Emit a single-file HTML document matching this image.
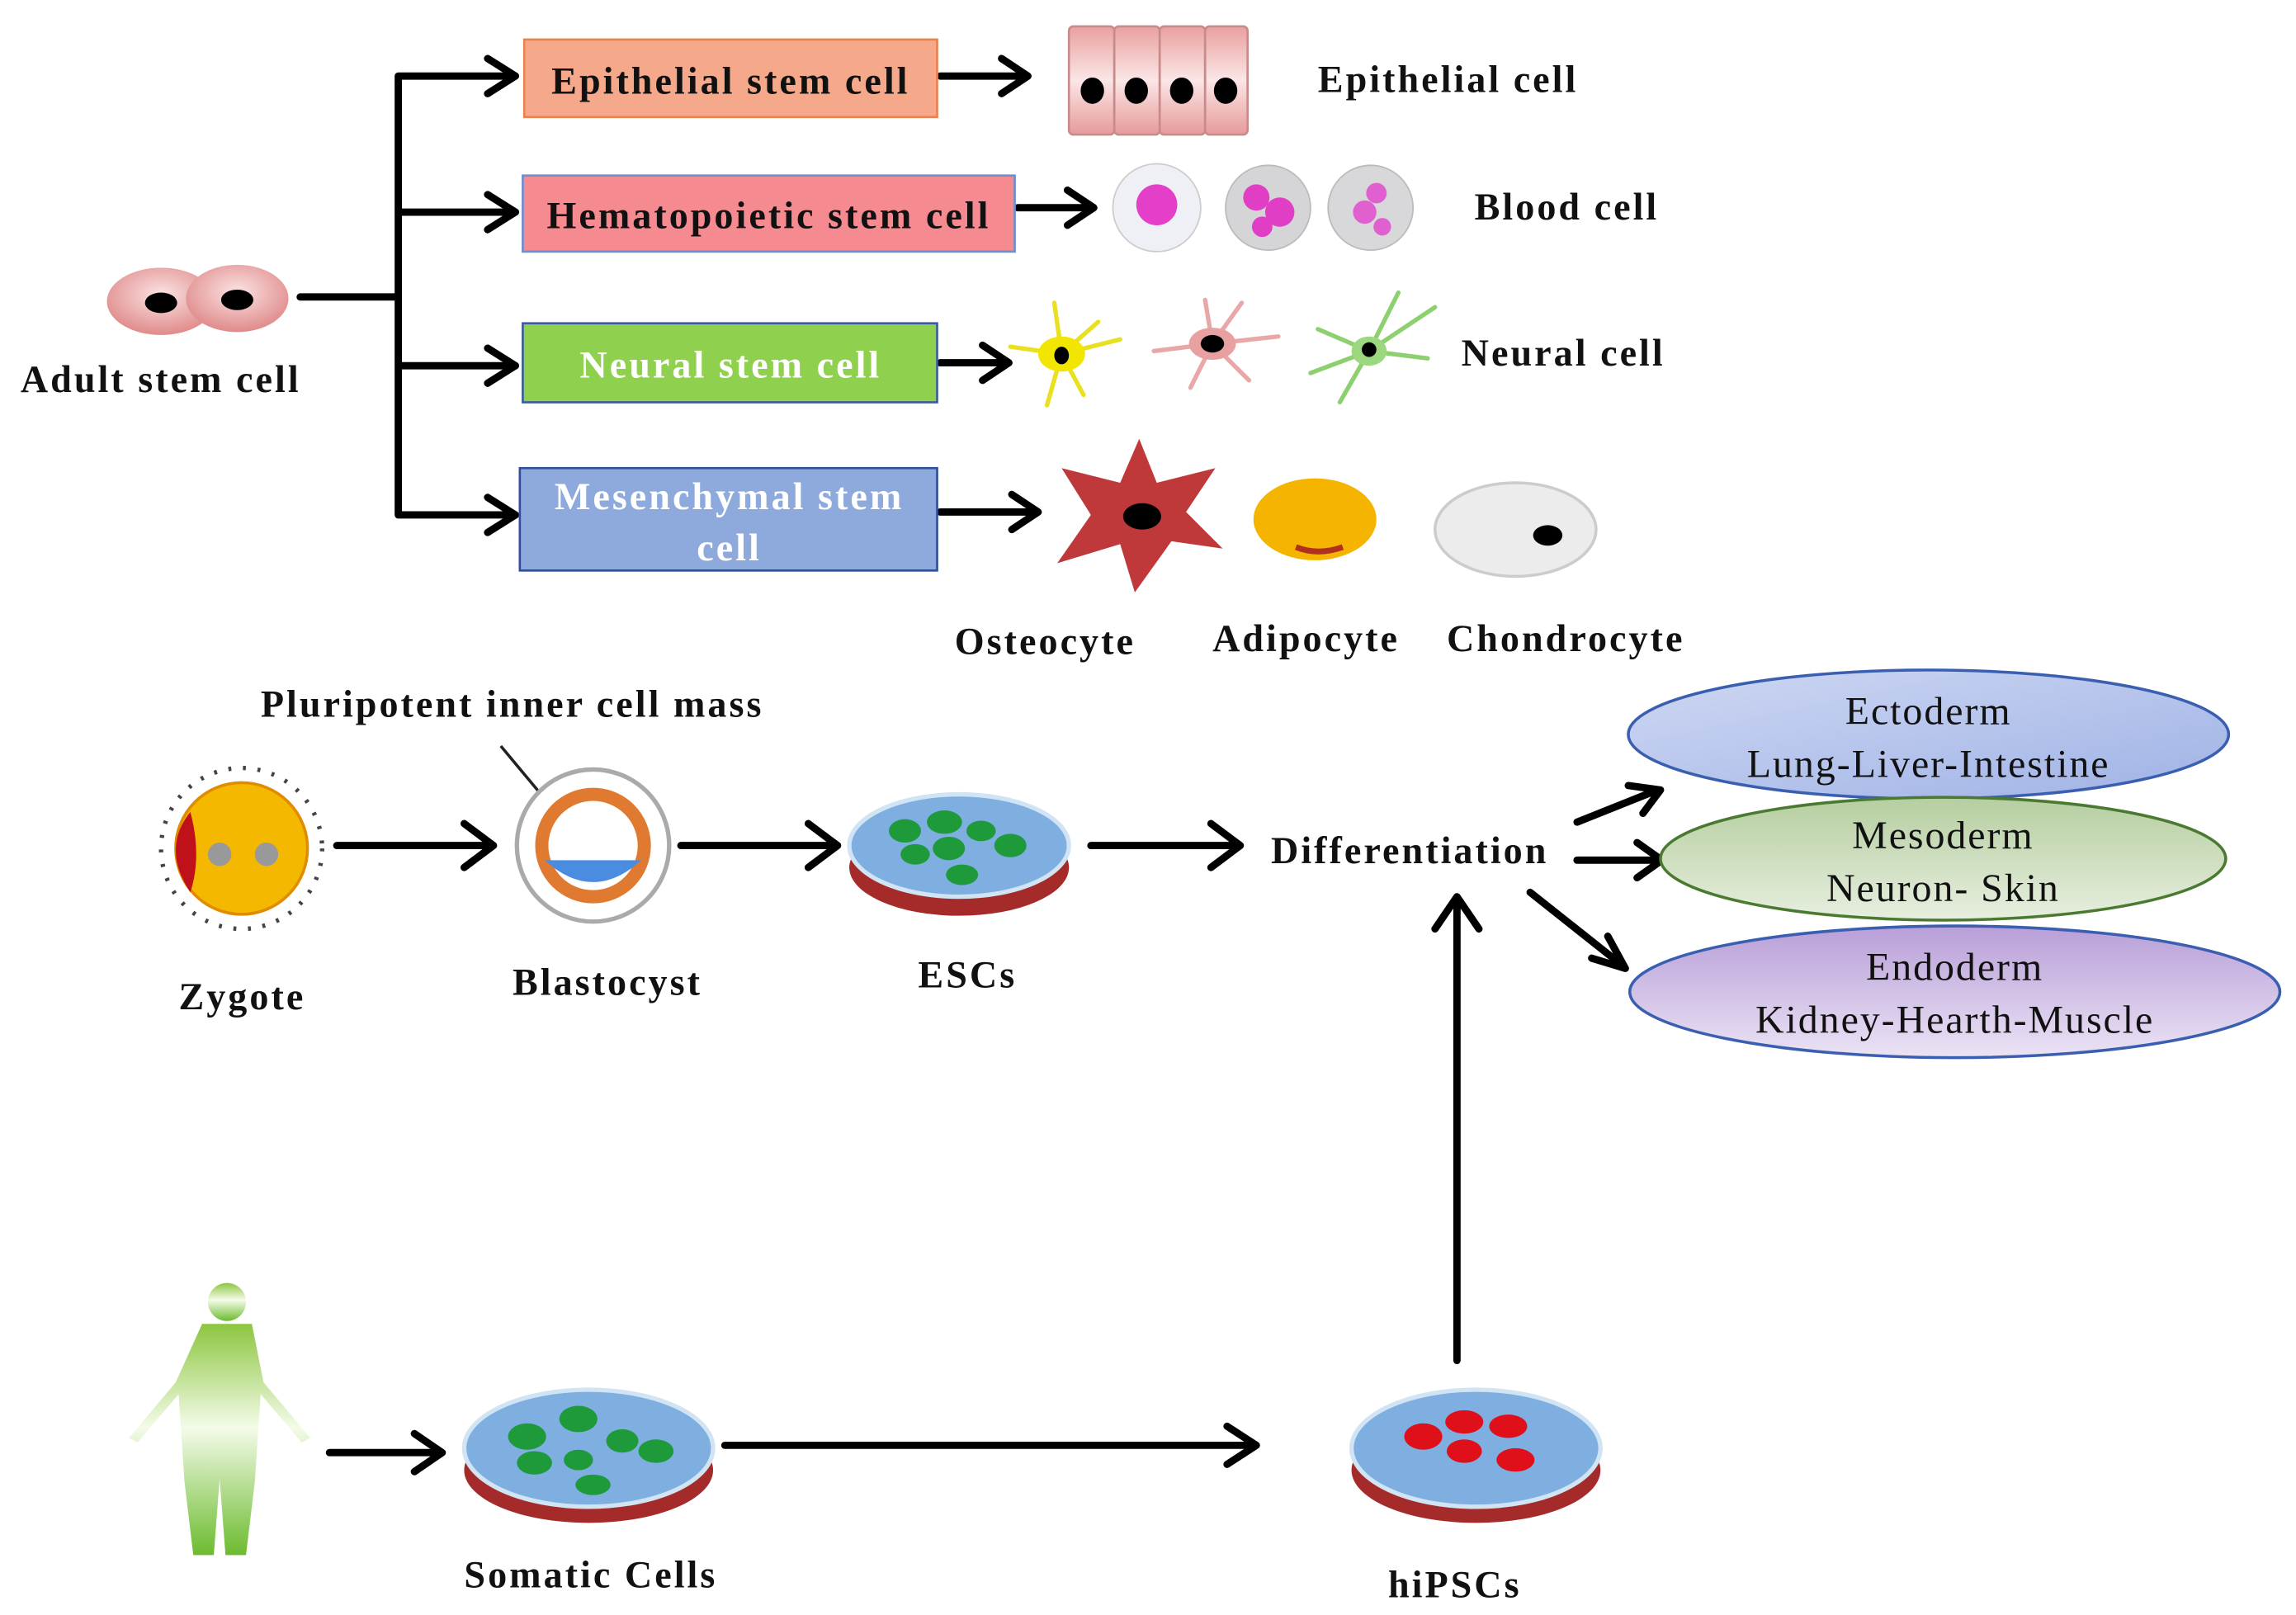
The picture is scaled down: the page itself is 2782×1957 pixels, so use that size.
<!DOCTYPE html>
<html><head><meta charset="utf-8"><style>
html,body{margin:0;padding:0;background:#fff;}
svg{display:block;}
text{font-family:"Liberation Serif",serif;}
.b{font-weight:bold;font-size:26px;fill:#111;letter-spacing:1.7px;}
.r{font-size:27px;fill:#111;letter-spacing:1.1px;}
</style></head><body>
<svg width="2782" height="1957" viewBox="0 0 1568 1104" preserveAspectRatio="none" xmlns="http://www.w3.org/2000/svg">
<defs>
<radialGradient id="pink" cx="50%" cy="40%" r="60%"><stop offset="0" stop-color="#fbe3e3"/><stop offset="1" stop-color="#e08a8a"/></radialGradient>
<linearGradient id="epi" x1="0" y1="0" x2="0" y2="1"><stop offset="0" stop-color="#e9a0a0"/><stop offset=".5" stop-color="#fbe6e6"/><stop offset="1" stop-color="#e79a9a"/></linearGradient>
<linearGradient id="ecto" x1="0" y1="0" x2="1" y2="1"><stop offset="0" stop-color="#cfd8f3"/><stop offset="1" stop-color="#9fb2e6"/></linearGradient>
<linearGradient id="meso" x1="0" y1="0" x2="0" y2="1"><stop offset="0" stop-color="#b5cea0"/><stop offset="1" stop-color="#e7efdf"/></linearGradient>
<linearGradient id="endo" x1="0" y1="0" x2="0" y2="1"><stop offset="0" stop-color="#b89fd8"/><stop offset="1" stop-color="#ebe3f5"/></linearGradient>
<linearGradient id="human" x1="0" y1="0" x2="0" y2="1"><stop offset="0" stop-color="#8cc63f"/><stop offset=".45" stop-color="#f4fbe9"/><stop offset="1" stop-color="#6dbb2f"/></linearGradient>
</defs>
<g stroke="#000" stroke-width="5" fill="none" stroke-linecap="round" stroke-linejoin="round">
<path d="M205 203H272M272 52V352M272 52H352M272 145H352M272 250H352M272 352H352"/>
<path d="M333 40L352 52L333 64M333 133L352 145L333 157M333 238L352 250L333 262M333 340L352 352L333 364"/>
<path d="M642 52H700M684 40L702 52L684 64"/>
<path d="M695 142H745M729 130L747 142L729 154"/>
<path d="M642 248H687M671 236L689 248L671 260"/>
<path d="M642 350H707M691 338L709 350L691 362"/>
<path d="M230 578H335M317 563L337 578L317 593"/>
<path d="M465 578H570M552 563L572 578L552 593"/>
<path d="M745 578H845M827 563L847 578L827 593"/>
<path d="M1077 562L1132 540M1112 537L1134 540L1122 556"/>
<path d="M1077 588H1133M1118 576L1135 588L1118 600"/>
<path d="M1045 610L1108 660M1098 640L1110 662L1087 655"/>
<path d="M995 930V615M980 635L995 613L1010 635"/>
<path d="M225 993H300M283 980L302 993L283 1006"/>
<path d="M495 988H855M838 975L858 988L838 1001"/>
</g>
<path d="M342 510L392 570" stroke="#222" stroke-width="2"/>
<path d="M392 570l-9-3 5-5z" fill="#222"/>
<ellipse cx="110" cy="206" rx="37" ry="23" fill="url(#pink)"/>
<ellipse cx="162" cy="204" rx="35" ry="23" fill="url(#pink)"/>
<ellipse cx="110" cy="207" rx="11" ry="7"/><ellipse cx="162" cy="205" rx="11" ry="7"/>
<text x="14" y="268" class="b">Adult stem cell</text>
<rect x="358" y="27" width="282" height="53" fill="#f6a98a" stroke="#e8824f" stroke-width="1.5"/>
<text x="499" y="64" class="b" text-anchor="middle">Epithelial stem cell</text>
<rect x="357" y="120" width="336" height="52" fill="#f58a90" stroke="#6b8fd0" stroke-width="1.5"/>
<text x="525" y="156" class="b" text-anchor="middle">Hematopoietic stem cell</text>
<rect x="357" y="221" width="283" height="54" fill="#8fd14f" stroke="#3d5aa0" stroke-width="1.5"/>
<text x="499" y="258" class="b" text-anchor="middle" style="fill:#fff">Neural stem cell</text>
<rect x="355" y="320" width="285" height="70" fill="#8eaadc" stroke="#2f4f9a" stroke-width="1.5"/>
<text x="498" y="348" class="b" text-anchor="middle" style="fill:#fff">Mesenchymal stem</text>
<text x="498" y="383" class="b" text-anchor="middle" style="fill:#fff">cell</text>
<g stroke="#c98a8a" stroke-width="1.5" fill="url(#epi)">
<rect x="730" y="18" width="31" height="74" rx="3"/><rect x="761" y="18" width="31" height="74" rx="3"/><rect x="792" y="18" width="31" height="74" rx="3"/><rect x="823" y="18" width="29" height="74" rx="3"/>
</g>
<ellipse cx="746" cy="62" rx="8" ry="9"/><ellipse cx="776" cy="62" rx="8" ry="9"/><ellipse cx="807" cy="62" rx="8" ry="9"/><ellipse cx="837" cy="62" rx="8" ry="9"/>
<text x="900" y="63" class="b">Epithelial cell</text>
<circle cx="790" cy="142" r="30" fill="#eef0f5" stroke="#ccc"/><circle cx="790" cy="140" r="14" fill="#e33fc8"/>
<circle cx="866" cy="142" r="29" fill="#d5d5d8" stroke="#bbb"/><circle cx="858" cy="135" r="9" fill="#e03fc5"/><circle cx="874" cy="145" r="10" fill="#e03fc5"/><circle cx="862" cy="155" r="7" fill="#e03fc5"/>
<circle cx="936" cy="142" r="29" fill="#d8d8da" stroke="#bbb"/><circle cx="940" cy="132" r="7" fill="#e060d0"/><circle cx="932" cy="145" r="8" fill="#e060d0"/><circle cx="944" cy="155" r="6" fill="#e060d0"/>
<text x="1007" y="150" class="b">Blood cell</text>
<g stroke-width="3" stroke-linecap="round">
<path d="M725 242l-35 -5M725 242l40 -10M725 242l-10 35M725 242l15 28M725 242l-5 -35M725 242l25 -22" stroke="#e8e020"/>
<ellipse cx="725" cy="242" rx="16" ry="12" fill="#f2e600"/>
<path d="M828 235l-40 5M828 235l45 -5M828 235l-5 -30M828 235l20 -28M828 235l-15 30M828 235l25 25" stroke="#e8a8a8"/>
<ellipse cx="828" cy="235" rx="16" ry="11" fill="#e8a0a0"/>
<path d="M935 240l-40 15M935 240l45 -30M935 240l-20 35M935 240l20 -40M935 240l40 5M935 240l-35 -15" stroke="#8cd070"/>
<ellipse cx="935" cy="240" rx="12" ry="10" fill="#9bd880"/>
</g>
<ellipse cx="725" cy="243" rx="5" ry="6"/><ellipse cx="828" cy="235" rx="8" ry="6"/><circle cx="935" cy="239" r="5"/>
<text x="998" y="250" class="b">Neural cell</text>
<path d="M778 300L790 330 830 320 810 350 835 375 800 370 775 405 765 372 722 385 745 352 725 320 765 330Z" fill="#c0393a"/>
<ellipse cx="780" cy="353" rx="13" ry="9"/>
<ellipse cx="898" cy="355" rx="42" ry="28" fill="#f4b400"/>
<path d="M885 374q15 6 32 0" stroke="#b03020" stroke-width="4" fill="none"/>
<ellipse cx="1035" cy="362" rx="55" ry="32" fill="#ececec" stroke="#ccc" stroke-width="2"/>
<ellipse cx="1057" cy="366" rx="10" ry="7"/>
<text x="652" y="447" class="b">Osteocyte</text>
<text x="828" y="445" class="b">Adipocyte</text>
<text x="988" y="445" class="b">Chondrocyte</text>
<circle cx="165" cy="580" r="55" fill="none" stroke="#444" stroke-width="3" stroke-dasharray="2 8"/>
<circle cx="165" cy="580" r="45" fill="#f4b800" stroke="#e08b00" stroke-width="2"/>
<path d="M130 555q-20 25 0 55q8-25 0-55z" fill="#c0101a"/>
<circle cx="150" cy="584" r="8" fill="#999"/><circle cx="182" cy="584" r="8" fill="#999"/>
<text x="122" y="690" class="b">Zygote</text>
<text x="178" y="490" class="b">Pluripotent inner cell mass</text>
<circle cx="405" cy="578" r="52" fill="#fff" stroke="#aaa" stroke-width="3"/>
<circle cx="405" cy="578" r="35" fill="none" stroke="#e07a30" stroke-width="9"/>
<path d="M372 588q33 30 66 0z" fill="#4a8de0"/>
<text x="350" y="680" class="b">Blastocyst</text>
<ellipse cx="655" cy="593" rx="75" ry="33" fill="#a52a2a"/>
<ellipse cx="655" cy="578" rx="75" ry="35" fill="#7faee0" stroke="#d0e4f4" stroke-width="3"/>
<g fill="#1e9a3a"><ellipse cx="618" cy="568" rx="11" ry="8"/><ellipse cx="645" cy="562" rx="12" ry="8"/><ellipse cx="670" cy="568" rx="10" ry="7"/><ellipse cx="625" cy="584" rx="10" ry="7"/><ellipse cx="648" cy="580" rx="11" ry="8"/><ellipse cx="690" cy="578" rx="11" ry="8"/><ellipse cx="657" cy="598" rx="11" ry="7"/></g>
<text x="627" y="675" class="b">ESCs</text>
<text x="868" y="590" class="b">Differentiation</text>
<ellipse cx="1317" cy="502" rx="205" ry="44" fill="url(#ecto)" stroke="#3b5fb0" stroke-width="2"/>
<text x="1317" y="495" class="r" text-anchor="middle">Ectoderm</text>
<text x="1317" y="531" class="r" text-anchor="middle">Lung-Liver-Intestine</text>
<ellipse cx="1327" cy="587" rx="193" ry="42" fill="url(#meso)" stroke="#4a7a30" stroke-width="2"/>
<text x="1327" y="580" class="r" text-anchor="middle">Mesoderm</text>
<text x="1327" y="616" class="r" text-anchor="middle">Neuron- Skin</text>
<ellipse cx="1335" cy="678" rx="222" ry="45" fill="url(#endo)" stroke="#3b5fb0" stroke-width="2"/>
<text x="1335" y="670" class="r" text-anchor="middle">Endoderm</text>
<text x="1335" y="706" class="r" text-anchor="middle">Kidney-Hearth-Muscle</text>
<g fill="url(#human)">
<circle cx="155" cy="890" r="13"/>
<path d="M138 905h34l8 40 32 38-6 3-28-33-4 60-6 50h-14l-4-52-4 52h-14l-6-50-4-60-28 33-6-3 32-38z"/>
</g>
<ellipse cx="402" cy="1005" rx="85" ry="36" fill="#a52a2a"/>
<ellipse cx="402" cy="990" rx="85" ry="40" fill="#7faee0" stroke="#d0e4f4" stroke-width="3"/>
<g fill="#1e9a3a"><ellipse cx="360" cy="982" rx="13" ry="9"/><ellipse cx="395" cy="970" rx="13" ry="9"/><ellipse cx="425" cy="985" rx="11" ry="8"/><ellipse cx="365" cy="1000" rx="12" ry="8"/><ellipse cx="395" cy="998" rx="10" ry="7"/><ellipse cx="448" cy="992" rx="12" ry="8"/><ellipse cx="405" cy="1015" rx="12" ry="7"/></g>
<text x="317" y="1085" class="b">Somatic Cells</text>
<ellipse cx="1008" cy="1005" rx="85" ry="36" fill="#a52a2a"/>
<ellipse cx="1008" cy="990" rx="85" ry="40" fill="#7faee0" stroke="#d0e4f4" stroke-width="3"/>
<g fill="#e0101a"><ellipse cx="972" cy="982" rx="13" ry="9"/><ellipse cx="1000" cy="972" rx="13" ry="8"/><ellipse cx="1030" cy="975" rx="13" ry="8"/><ellipse cx="1000" cy="992" rx="12" ry="8"/><ellipse cx="1035" cy="998" rx="13" ry="8"/></g>
<text x="948" y="1092" class="b">hiPSCs</text>
</svg>
</body></html>
